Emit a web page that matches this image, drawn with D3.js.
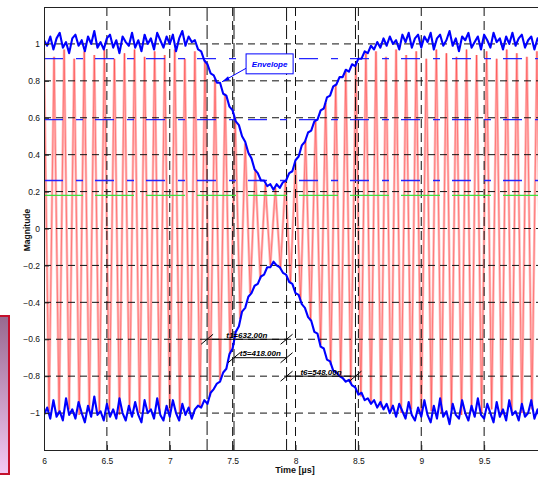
<!DOCTYPE html>
<html><head><meta charset="utf-8">
<script src="https://cdn.jsdelivr.net/npm/d3@7"></script>
<style>
html,body{margin:0;padding:0;background:#fff;overflow:hidden}
svg{display:block;font-family:"Liberation Sans",Arial,sans-serif}
</style></head><body>
<svg id="chart" width="538" height="477"></svg>
<script>
// ---- data ----
// envelope samples (µs grid: start + i*step)
const envStart = 6.0, envStep = 0.025;
const envTop = [
  1.02, 0.99, 1.04, 0.97, 1.03, 1.06, 0.98, 1.01, 0.95, 1.03,
  1.05, 0.99, 1.02, 0.96, 1.04, 1.00, 1.07, 0.98, 1.01, 0.97,
  1.03, 1.05, 0.98, 1.02, 0.95, 1.04, 1.01, 0.99, 1.06, 0.98,
  1.02, 0.96, 1.05, 1.00, 1.03, 0.97, 1.06, 1.02, 0.98, 1.04,
  1.00, 1.05, 0.96, 1.03, 1.07, 0.99, 1.04, 1.01, 1.02, 0.97,
  0.96, 0.91, 0.89, 0.84, 0.83, 0.79, 0.79, 0.73, 0.72, 0.66,
  0.64, 0.58, 0.56, 0.50, 0.47, 0.41, 0.38, 0.32, 0.30, 0.26,
  0.26, 0.23, 0.24, 0.21, 0.24, 0.22, 0.25, 0.26, 0.30, 0.31,
  0.37, 0.39, 0.45, 0.47, 0.52, 0.53, 0.58, 0.59, 0.64, 0.65,
  0.71, 0.72, 0.77, 0.78, 0.82, 0.82, 0.86, 0.85, 0.89, 0.88,
  0.92, 0.92, 0.96, 0.95, 0.99, 0.97, 1.01, 0.98, 1.03, 0.99,
  1.04, 1.00, 1.02, 0.97, 1.05, 1.01, 1.06, 0.98, 1.03, 1.05,
  0.98, 1.04, 1.01, 1.06, 0.97, 1.03, 1.05, 0.99, 1.02, 1.07,
  0.99, 1.03, 0.96, 1.04, 1.02, 1.06, 0.98, 1.01, 1.04, 0.97,
  1.05, 1.02, 0.98, 1.06, 1.01, 1.03, 0.97, 1.04, 1.00, 1.06,
  0.99, 1.03, 1.05, 0.98, 1.02, 1.04, 0.97, 1.03, 1.01
];
const envBottom = [
  -1.01, -0.97, -1.03, -0.93, -1.02, -0.99, -1.04, -0.92, -1.01, -0.98,
  -1.03, -0.94, -1.00, -1.05, -0.96, -1.02, -0.91, -1.01, -0.99, -1.04,
  -0.95, -1.02, -0.98, -1.03, -0.92, -1.00, -1.04, -0.96, -1.02, -0.94,
  -1.01, -1.05, -0.93, -1.00, -0.98, -1.03, -0.92, -1.01, -1.04, -0.96,
  -1.02, -0.93, -1.00, -1.04, -0.95, -1.01, -0.97, -1.03, -0.98, -0.96,
  -0.97, -0.93, -0.95, -0.89, -0.87, -0.84, -0.83, -0.78, -0.76, -0.68,
  -0.65, -0.56, -0.53, -0.45, -0.43, -0.37, -0.35, -0.31, -0.30, -0.26,
  -0.25, -0.21, -0.21, -0.18, -0.20, -0.21, -0.24, -0.25, -0.29, -0.30,
  -0.35, -0.36, -0.41, -0.43, -0.48, -0.50, -0.56, -0.57, -0.64, -0.65,
  -0.71, -0.72, -0.77, -0.78, -0.80, -0.81, -0.83, -0.82, -0.85, -0.86,
  -0.90, -0.89, -0.93, -0.92, -0.95, -0.93, -0.97, -0.94, -0.98, -0.95,
  -1.00, -0.96, -1.02, -0.95, -0.99, -1.03, -0.94, -1.01, -1.04, -0.97,
  -1.02, -0.93, -1.01, -1.05, -0.96, -1.03, -0.92, -1.02, -0.99, -1.06,
  -0.95, -1.01, -1.03, -0.93, -1.00, -1.04, -0.96, -1.02, -0.92, -1.01,
  -1.03, -0.95, -1.00, -1.05, -0.94, -1.02, -0.98, -1.04, -0.93, -1.01,
  -0.99, -1.04, -0.95, -1.02, -1.00, -0.93, -1.03, -0.98, -1.05
];
// carrier turning points (start + i*step µs)
const carrierStart = 6.0, carrierStep = 0.04;
const carrierPeaks = [
   0.96, -0.99,  0.93, -1.00,  0.97, -0.98,  0.92, -1.01,  0.96, -0.99,
   0.94, -1.00,  0.97, -0.98,  0.92, -1.01,  0.95, -0.99,  0.97, -1.00,
   0.93, -0.98,  0.96, -1.00,  0.94, -0.99,  0.97, -1.01,  0.92, -0.98,
   0.96, -0.97,  0.91, -0.91,  0.81, -0.82,  0.73, -0.68,  0.60, -0.49,
   0.46, -0.35,  0.32, -0.27,  0.24, -0.20,  0.22, -0.22,  0.26, -0.29,
   0.36, -0.39,  0.48, -0.50,  0.58, -0.63,  0.68, -0.74,  0.78, -0.80,
   0.85, -0.84,  0.89, -0.91,  0.95, -0.95,  0.96, -0.97,  0.93, -0.99,
   0.97, -1.00,  0.94, -0.98,  0.96, -1.01,  0.92, -0.99,  0.97, -1.00,
   0.95, -0.98,  0.93, -1.01,  0.97, -0.99,  0.94, -1.00,  0.96, -0.98,
   0.92, -1.01,  0.97, -0.99,  0.95, -1.00,  0.93, -0.98,  0.96, -0.99
];
const xTicks = [6, 6.5, 7, 7.5, 8, 8.5, 9, 9.5];
const yTicks = [-1, -0.8, -0.6, -0.4, -0.2, 0, 0.2, 0.4, 0.6, 0.8, 1];
// threshold levels
const levelValues = [0.92, 0.59, 0.26, 0.18];
const levelColors = ["#2424ff", "#2424ff", "#2424ff", "#3ee03e"];
const levelDashes = ["19,13,7,12", "19,13,7,12", "19,13,7,12", "39,12"];
// timing cursors: name, start (µs), duration (ns), level
const spanNames = ["t1", "t5", "t6"];
const spanStarts = [7.297, 7.511, 7.929];
const spanDurations = [632, 418, 548];
const spanLevels = [-0.6, -0.7, -0.8];

// ---- layout ----
const W = 538, H = 477;
const M = {left: 44, top: 7, bottom: 450};
const x = d3.scaleLinear().domain([6, 10]).range([44, 547]);
const y = d3.scaleLinear().domain([-1.2, 1.2]).range([M.bottom, M.top]);

const svg = d3.select("#chart");
svg.append("rect").attr("width", W).attr("height", H).attr("fill", "#fff");

const defs = svg.append("defs");
defs.append("clipPath").attr("id", "plot")
  .append("rect").attr("x", M.left).attr("y", M.top)
  .attr("width", W - M.left).attr("height", M.bottom - M.top);
const grad = defs.append("linearGradient").attr("id", "sideGrad")
  .attr("x1", 0).attr("y1", 0).attr("x2", 0).attr("y2", 1);
grad.append("stop").attr("offset", "0%").attr("stop-color", "#98698f");
grad.append("stop").attr("offset", "100%").attr("stop-color", "#f4c8f4");

const plot = svg.append("g").attr("clip-path", "url(#plot)");

// carrier
const carrierPts = carrierPeaks.map((v, i) => [carrierStart + i * carrierStep, v]);
const carrierLine = d3.line().x(d => x(d[0])).y(d => y(d[1]));
plot.append("path").datum(carrierPts).attr("d", carrierLine)
  .attr("fill", "none").attr("stroke", "#ff0000").attr("stroke-opacity", 0.27)
  .attr("stroke-width", 2.6);
plot.append("path").datum(carrierPts).attr("d", carrierLine)
  .attr("fill", "none").attr("stroke", "#ff0000").attr("stroke-opacity", 0.5)
  .attr("stroke-width", 0.7);

// grid
const grid = plot.append("g");
yTicks.forEach(v => {
  grid.append("line").attr("x1", M.left).attr("x2", W)
    .attr("y1", y(v)).attr("y2", y(v))
    .attr("stroke", "#111").attr("stroke-width", 1).attr("stroke-dasharray", "7,5");
});
xTicks.filter(v => v > 6).forEach(v => {
  grid.append("line").attr("x1", x(v)).attr("x2", x(v))
    .attr("y1", M.top).attr("y2", M.bottom)
    .attr("stroke", "#111").attr("stroke-width", 1).attr("stroke-dasharray", "9,5");
});
// cursor verticals
const cursorTimes = [spanStarts[0], spanStarts[1], spanStarts[2], spanStarts[2] + spanDurations[2] / 1000];
cursorTimes.forEach(t => {
  grid.append("line").attr("x1", x(t)).attr("x2", x(t))
    .attr("y1", M.top).attr("y2", M.bottom)
    .attr("stroke", "#111").attr("stroke-width", 1).attr("stroke-dasharray", "14,4");
});

// threshold levels
levelValues.forEach((v, i) => {
  plot.append("line").attr("x1", M.left).attr("x2", W)
    .attr("y1", y(v)).attr("y2", y(v))
    .attr("stroke", levelColors[i]).attr("stroke-width", 1.3)
    .attr("stroke-dasharray", levelDashes[i]);
});

// envelopes
const envLine = d3.line().x((d, i) => x(envStart + i * envStep)).y(d => y(d));
[envTop, envBottom].forEach(arr => {
  plot.append("path").datum(arr).attr("d", envLine)
    .attr("fill", "none").attr("stroke", "#0000ff").attr("stroke-width", 2.1)
    .attr("stroke-linejoin", "round");
});

// timing spans
const ann = svg.append("g");
spanNames.forEach((n, i) => {
  const t0 = spanStarts[i], t1 = t0 + spanDurations[i] / 1000;
  const yy = y(spanLevels[i]);
  ann.append("line").attr("x1", x(t0)).attr("x2", x(t1)).attr("y1", yy).attr("y2", yy)
    .attr("stroke", "#000").attr("stroke-width", 1);
  [t0, t1].forEach(t => {
    ann.append("line").attr("x1", x(t) - 6).attr("y1", yy + 5)
      .attr("x2", x(t) + 6).attr("y2", yy - 5)
      .attr("stroke", "#000").attr("stroke-width", 1);
  });
  ann.append("text").attr("x", (x(t0) + x(t1)) / 2).attr("y", yy - 1.5)
    .attr("text-anchor", "middle").attr("font-size", 8).attr("font-weight", "bold")
    .attr("font-style", "italic").attr("fill", "#000")
    .text(`${n}=${spanDurations[i].toFixed(2)}n`);
});

// envelope callout
const boxX0 = x(7.607), boxX1 = x(7.981), boxY0 = y(0.946), boxY1 = y(0.838);
ann.append("line").attr("x1", boxX0).attr("y1", y(0.868))
  .attr("x2", x(7.416)).attr("y2", y(0.795))
  .attr("stroke", "#0000ff").attr("stroke-width", 1);
ann.append("path")
  .attr("d", `M${x(7.416)},${y(0.795)} l6,-5.5 l1.5,3.8 z`)
  .attr("fill", "#0000ff");
ann.append("rect").attr("x", boxX0).attr("y", boxY0)
  .attr("width", boxX1 - boxX0).attr("height", boxY1 - boxY0)
  .attr("fill", "#fff").attr("stroke", "#0000ff").attr("stroke-width", 1);
ann.append("text").attr("x", (boxX0 + boxX1) / 2).attr("y", (boxY0 + boxY1) / 2 + 3)
  .attr("text-anchor", "middle").attr("font-size", 8).attr("font-weight", "bold")
  .attr("font-style", "italic").attr("fill", "#0000ff").text("Envelope");

// axes frame
const ax = svg.append("g").attr("stroke", "#222").attr("stroke-width", 1);
ax.append("line").attr("x1", M.left).attr("x2", W).attr("y1", M.top + 0.5).attr("y2", M.top + 0.5);
ax.append("line").attr("x1", M.left).attr("x2", W).attr("y1", M.bottom + 0.5).attr("y2", M.bottom + 0.5);
ax.append("line").attr("x1", M.left + 0.5).attr("x2", M.left + 0.5).attr("y1", M.top).attr("y2", M.bottom + 1);

const xAxis = d3.axisBottom(x).tickValues(xTicks).tickSize(-5).tickPadding(8)
  .tickFormat(d3.format("~g"));
const gx = svg.append("g").attr("transform", `translate(0,${M.bottom})`).call(xAxis);
gx.select(".domain").remove();
gx.selectAll("text").attr("font-size", 8.5).attr("fill", "#111")
  .attr("font-family", "Liberation Sans, Arial, sans-serif");
gx.selectAll("line").attr("stroke", "#222");

const yAxis = d3.axisLeft(y).tickValues(yTicks).tickSize(-5).tickPadding(4)
  .tickFormat(d3.format("~g"));
const gy = svg.append("g").attr("transform", `translate(${M.left},0)`).call(yAxis);
gy.select(".domain").remove();
gy.selectAll("text").attr("font-size", 8.5).attr("fill", "#111")
  .attr("font-family", "Liberation Sans, Arial, sans-serif");
gy.selectAll("line").attr("stroke", "#222");

// axis titles
svg.append("text").attr("x", 295).attr("y", 473).attr("text-anchor", "middle")
  .attr("font-size", 9).attr("font-weight", "bold").attr("fill", "#111").text("Time [µs]");
svg.append("text").attr("transform", "translate(30,230) rotate(-90)")
  .attr("text-anchor", "middle").attr("font-size", 8.5).attr("font-weight", "bold")
  .attr("fill", "#111").text("Magnitude");

// side panel
svg.append("rect").attr("x", -3).attr("y", 316).attr("width", 12).attr("height", 158)
  .attr("fill", "url(#sideGrad)").attr("stroke", "#c4102c").attr("stroke-width", 2);
</script>
</body></html>
